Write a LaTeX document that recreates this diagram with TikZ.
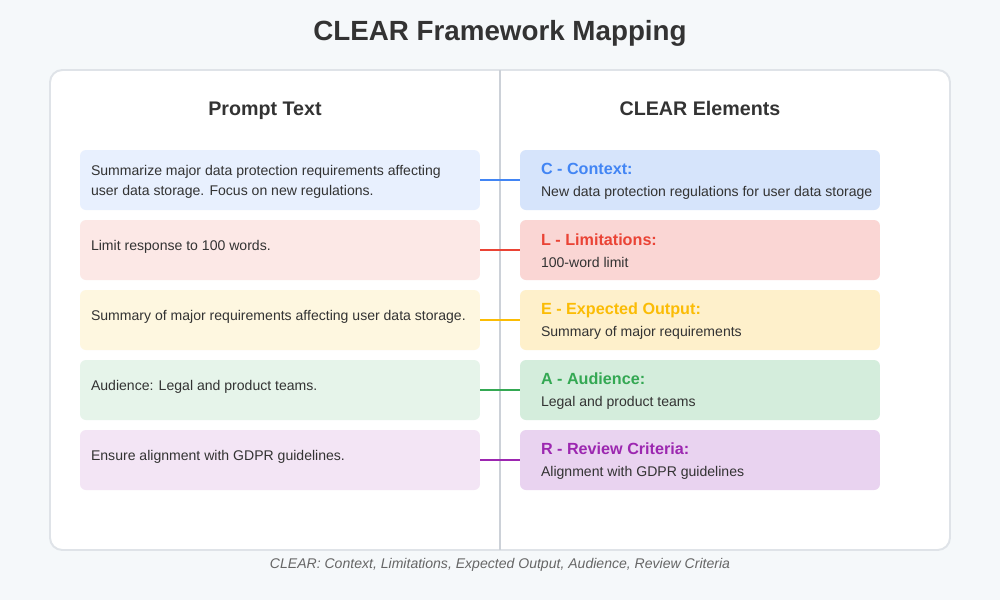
\documentclass[tikz,border=0pt]{standalone}
\usepackage{fontspec}
\setmainfont{Liberation Sans}
\usetikzlibrary{positioning}

\definecolor{pagebg}{HTML}{F5F8FA}
\definecolor{inkdark}{HTML}{333333}
\definecolor{inkgray}{HTML}{666666}
\definecolor{panelline}{HTML}{DFE3E8}
\definecolor{divline}{HTML}{CCD1D8}
% connector / heading colours
\definecolor{lineC}{HTML}{4285F4}
\definecolor{lineL}{HTML}{EA4335}
\definecolor{lineE}{HTML}{FBBC05}
\definecolor{lineA}{HTML}{34A853}
\definecolor{lineR}{HTML}{9C27B0}
% prompt box fills
\definecolor{promptC}{HTML}{E8F0FE}
\definecolor{promptL}{HTML}{FCE8E6}
\definecolor{promptE}{HTML}{FEF7E0}
\definecolor{promptA}{HTML}{E6F4EA}
\definecolor{promptR}{HTML}{F3E5F5}
% element box fills
\definecolor{elemC}{HTML}{D6E4FB}
\definecolor{elemL}{HTML}{FAD6D4}
\definecolor{elemE}{HTML}{FEF0CB}
\definecolor{elemA}{HTML}{D4EDDC}
\definecolor{elemR}{HTML}{E9D3F0}

\newcommand{\elemheadfont}{\fontsize{9.2pt}{11pt}\selectfont\bfseries}

\tikzset{
  panel/.style={fill=white, draw=panelline, line width=1.1pt, rounded corners=7pt},
  divider/.style={draw=divline, line width=1.2pt},
  colhead/.style={anchor=base, font=\fontsize{11.2pt}{13pt}\selectfont\bfseries, text=inkdark},
  promptbox/.style={rounded corners=3.4pt, minimum width=8cm, minimum height=1.2cm, inner sep=0pt},
  elembox/.style={rounded corners=3.4pt, minimum width=7.2cm, minimum height=1.2cm, inner sep=0pt},
  boxtext/.style={anchor=west, align=left, inner sep=0pt, text=inkdark,
    font=\fontsize{8pt}{11.4pt}\selectfont},
  link/.style={line width=1pt}
}

\begin{document}
\begin{tikzpicture}[x=0.02cm, y=-0.02cm]
  \fill[pagebg] (0,0) rectangle (1000,600);
  \useasboundingbox (0,0) rectangle (1000,600);

  \node[font=\fontsize{15.8pt}{18pt}\selectfont\bfseries, text=inkdark] (title) at (500,33) {CLEAR Framework Mapping};

  \draw[panel] (50,70) rectangle (950,550);
  \coordinate (divtop) at (500,70);
  \coordinate (divbot) at (500,550);
  \draw[divider] (divtop) -- (divbot);

  \node[colhead] (prompthead) at (265,115) {Prompt Text};
  \node[colhead] (elemhead) at (700,115) {CLEAR Elements};

  \foreach \n/\y/\dy/\ptext/\ehead/\etext in {
    C/180/-2/{Summarize major data protection requirements affecting\\user data storage. Focus on new regulations.}/{C - Context:}/{New data protection regulations for user data storage},
    L/250/3/{Limit response to 100 words.}/{L - Limitations:}/{100-word limit},
    E/320/3/{Summary of major requirements affecting user data storage.}/{E - Expected Output:}/{Summary of major requirements},
    A/390/3/{Audience: Legal and product teams.}/{A - Audience:}/{Legal and product teams},
    R/460/3/{Ensure alignment with GDPR guidelines.}/{R - Review Criteria:}/{Alignment with GDPR guidelines}}{
    \node[promptbox, fill=prompt\n] (p\n) at (280,\y) {};
    \node[boxtext] (pt\n) at ([xshift=0.22cm, yshift=\dy*0.02cm]p\n.west) {\ptext};
    \node[elembox, fill=elem\n] (e\n) at (700,\y) {};
    \node[boxtext] (et\n) at ([xshift=0.42cm, yshift=-0.02cm]e\n.west)
      {{\elemheadfont\color{line\n}\ehead}\\[1pt]\etext};
    \draw[link, line\n] (p\n.east) -- (e\n.west);
  }

  \node[font=\fontsize{8pt}{9pt}\selectfont\itshape, text=inkgray] (caption) at (500,565)
    {CLEAR: Context, Limitations, Expected Output, Audience, Review Criteria};
\end{tikzpicture}
\end{document}
